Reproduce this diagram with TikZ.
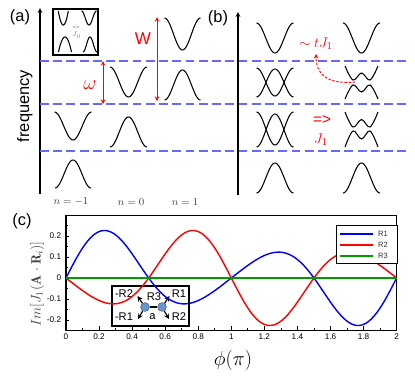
\documentclass[tikz,border=0pt]{standalone}
\usepackage{fontspec}
\setsansfont{Liberation Sans}

\definecolor{levelblue}{RGB}{105,105,245}
\definecolor{siteblue}{RGB}{105,150,205}
\definecolor{plotgreen}{RGB}{0,155,0}

% --- Level shapes: centre x, end y, width, depth ---
\newcommand{\valleycurve}[4]{%
  \draw[curve] plot[domain=-1:1, samples=41] ({#1+#3/2*\x}, {#2+#4*(1+cos(180*\x))/2});}
\newcommand{\humpcurve}[4]{%
  \draw[curve] plot[domain=-1:1, samples=41] ({#1+#3/2*\x}, {#2-#4*(1+cos(180*\x))/2});}
% --- Split levels (W over M): centre x, end y, depth ---
\newcommand{\wcurve}[3]{%
  \draw[curve] plot[smooth, tension=0.6] coordinates
    {(#1-16.5,#2) (#1-8.5,#2+#3) (#1,#2+0.5*#3) (#1+8.5,#2+#3) (#1+16.5,#2)};}
\newcommand{\mcurve}[3]{%
  \draw[curve] plot[smooth, tension=0.6] coordinates
    {(#1-16.5,#2) (#1-8.5,#2-#3) (#1,#2-0.5*#3) (#1+8.5,#2-#3) (#1+16.5,#2)};}

\begin{document}
\begin{tikzpicture}[x=0.03cm, y=-0.03cm, >=stealth,
  curve/.style={black, line width=0.9pt},
  level/.style={levelblue, line width=2.5pt, dash pattern=on 7.5pt off 3.8pt},
  redarrow/.style={<->, red, line width=0.8pt},
  panel/.style={font=\sffamily\fontsize{14}{16}\selectfont},
  nlab/.style={text=black!75, font=\fontsize{9.5}{10}\selectfont},
  ticklab/.style={font=\sffamily\fontsize{7}{8}\selectfont, inner sep=1pt},
  insetlab/.style={font=\sffamily\fontsize{9.5}{10}\selectfont, inner sep=0pt},
  legendlab/.style={font=\sffamily\fontsize{6.5}{7}\selectfont, text=black!80, inner sep=0pt},
  site/.style={circle, fill=siteblue, draw=siteblue!60!black, minimum size=7.5pt, inner sep=0pt}]

\useasboundingbox (0,0) rectangle (415,381);

% --- Panel labels ---
\node[panel] (labA) at (20,17) {(a)};
\node[panel] (labB) at (218,18) {(b)};
\node[panel] (labC) at (22,221) {(c)};

% --- Frequency axes ---
\coordinate (axAbot) at (40,194);
\coordinate (axAtop) at (40,8);
\coordinate (axBbot) at (238,195);
\coordinate (axBtop) at (238,12);
\draw[->, line width=0.9pt] (axAbot) -- (axAtop);
\draw[->, line width=0.9pt] (axBbot) -- (axBtop);
\node[panel, rotate=90] (freq) at (25,106) {frequency};

% --- Levels n*omega (dashed) ---
\foreach \yl in {61,104,151}
  \draw[level] (40,\yl) -- (410,\yl);

% --- Panel (a): replicas n=-1,0,1 ---
\valleycurve{73}{112}{37}{28}
\humpcurve{73}{188}{36}{28}
\valleycurve{128.5}{67}{37}{30}
\humpcurve{128.5}{147}{37}{30}
\valleycurve{182.5}{18}{36}{32}
\humpcurve{182.5}{100}{36}{30}

\node[nlab] (nm) at (71,202) {$n=-1$};
\node[nlab] (nz) at (131,202) {$n=0$};
\node[nlab] (np) at (185,202) {$n=1$};

% --- omega and W ---
\coordinate (omtop) at (103,61);
\coordinate (ombot) at (103,104);
\draw[redarrow] (omtop) -- (ombot);
\node[red, font=\fontsize{17}{17}\selectfont] (omega) at (90,85) {$\omega$};
\coordinate (Wtop) at (157,17);
\coordinate (Wbot) at (157,101);
\draw[redarrow] (Wtop) -- (Wbot);
\node[red, font=\sffamily\fontsize{14.5}{16}\selectfont] (Wlab) at (143,39) {W};

% --- Inset of (a) ---
\draw[line width=0.9pt] (53,9) rectangle (98,55);
\draw[curve] plot[domain=-1:1, samples=31] ({63.3+5*\x}, {25-14*\x*\x});
\valleycurve{89}{11}{15}{14}
\draw[curve] plot[domain=-1:1, samples=31] ({65+6.5*\x}, {37+15*\x*\x});
\humpcurve{90}{52}{14}{15}
\node[gray, font=\sffamily\fontsize{5}{5}\selectfont, inner sep=0pt] (eqJ0) at (76,27.5) {=>};
\node[gray, font=\fontsize{6}{6}\selectfont, inner sep=0pt] (J0lab) at (76.5,35) {$J_0$};

% --- Panel (b): crossings and splittings ---
\valleycurve{275}{23}{37}{30}
\valleycurve{275}{68}{37}{28}
\humpcurve{275}{97}{37}{28}
\valleycurve{275}{112}{37}{33}
\humpcurve{275}{147}{37}{33}
\humpcurve{275}{193}{37}{30}

\valleycurve{361.5}{23}{37}{30}
\wcurve{361.5}{66}{14}
\mcurve{361.5}{99}{14}
\wcurve{361.5}{112}{15}
\mcurve{361.5}{147}{16}
\humpcurve{361.5}{193}{37}{30}

\node[red, font=\fontsize{13}{13}\selectfont] (tJ) at (316,44) {$\sim t J_1$};
\coordinate (split) at (355,82);
\draw[->, red, dash pattern=on 2pt off 1.5pt, line width=0.8pt]
  (split) .. controls (325,85) and (316,72) .. (tJ.south);
\node[red, font=\sffamily\fontsize{13}{13}\selectfont] (arrJ) at (322,120) {=>};
\node[red, font=\fontsize{13}{13}\selectfont] (J1lab) at (321,140) {$J_1$};

% --- Inset of (c): two sites and bond vectors ---
\draw[line width=1pt] (112,286) rectangle (189,326);
\node[site] (siteL) at (145,307) {};
\node[site] (siteR) at (162,307) {};
\draw[line width=1pt] (siteL) -- (siteR);
\coordinate (tipUL) at (137.5,296);
\coordinate (tipDL) at (138,319);
\coordinate (tipUR) at (169.5,296);
\coordinate (tipDR) at (169,319);
\draw[->, line width=1pt] (siteL) -- (tipUL);
\draw[->, line width=1pt] (siteL) -- (tipDL);
\draw[->, line width=1pt] (siteR) -- (tipUR);
\draw[->, line width=1pt] (siteR) -- (tipDR);
\node[insetlab] (mR2) at (124,293.5) {-R2};
\node[insetlab] (R3) at (154,297) {R3};
\node[insetlab] (R1) at (179,293.5) {R1};
\node[insetlab] (mR1) at (124,317) {-R1};
\node[insetlab] (alab) at (152.5,317) {a};
\node[insetlab] (R2) at (179,317) {R2};

% --- Panel (c): Im J_1(A.R_i) vs phi ---
\begin{scope}[shift={(66,278)}, xscale=165.3, yscale=-210]
  \draw[line width=0.5pt] (0,-0.25) rectangle (2,0.3);
  \draw[line width=1.1pt] (0,0.3) -- (0,-0.25) -- (2,-0.25);
  % ticks
  \foreach \i in {0,...,20} {
    \pgfmathsetmacro{\tx}{\i/10}
    \draw[line width=0.6pt] (\tx,-0.25) -- ++(0,0.012);
  }
  \foreach \t [count=\i] in {0,0.2,0.4,0.6,0.8,1,1.2,1.4,1.6,1.8,2} {
    \draw[line width=0.6pt] (\t,-0.25) -- ++(0,0.02);
    \node[ticklab, below=2pt] (xt\i) at (\t,-0.25) {\t};
  }
  \foreach \v in {-0.15,-0.05,0.05,0.15,0.25}
    \draw[line width=0.6pt] (0,\v) -- ++(0.012,0);
  \foreach \v [count=\i] in {0.2,0.1,0,-0.1,-0.2} {
    \draw[line width=0.6pt] (0,\v) -- ++(0.02,0);
    \node[ticklab, left=3pt] (yt\i) at (0,\v) {\v};
  }
  % curves R1, R2, R3
  \draw[blue, line width=1.2pt, domain=0:2, samples=160]
    plot (\x, {sin(360*\x)*(0.1725+0.074*cos(180*\x))});
  \draw[red, line width=1.2pt, domain=0:2, samples=160]
    plot (\x, {-sin(360*\x)*(0.1725-0.074*cos(180*\x))});
  \draw[plotgreen, line width=1.5pt] (0,0) -- (2,0);
\end{scope}

\node[rotate=90, text=black!75, font=\fontsize{11.5}{12}\selectfont] (ylab) at (37,284)
  {$Im[J_1(\mathbf{A}\cdot\mathbf{R}_i)]$};
\node[font=\fontsize{17}{18}\selectfont] (xlab) at (233,360) {$\phi(\pi)$};

% --- Legend ---
\draw[line width=0.5pt, fill=white] (336,225) rectangle (397,263);
\foreach \col/\lab/\yy in {blue/R1/234, red/R2/245, plotgreen/R3/256} {
  \draw[\col, line width=1.4pt] (340,\yy) -- (373,\yy);
  \node[legendlab] (leg\lab) at (383,\yy) {\lab};
}

\end{tikzpicture}
\end{document}
